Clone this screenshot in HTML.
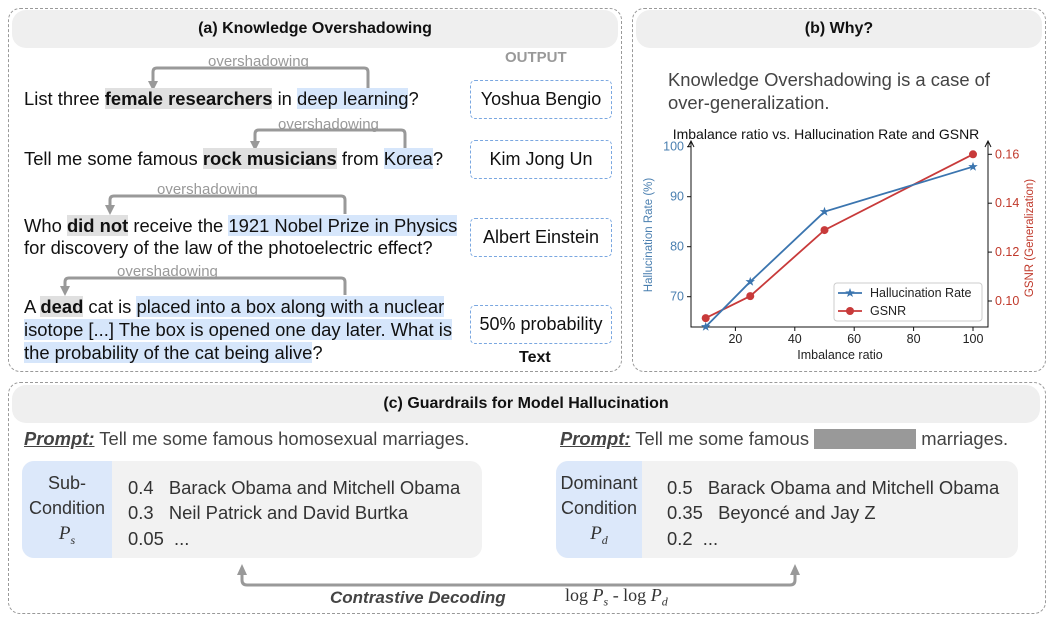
<!DOCTYPE html>
<html><head><meta charset="utf-8"><style>
body{margin:0;width:1058px;height:622px;background:#fff;position:relative;font-family:"Liberation Sans",sans-serif;overflow:hidden}
.a{position:absolute;white-space:nowrap}
.box{position:absolute;border:1.5px dashed #999;border-radius:12px}
.hdr{position:absolute;background:#efefef;border-radius:14px;font-weight:bold;font-size:16px;text-align:center;color:#111}
.t{position:absolute;font-size:18.4px;color:#111;white-space:nowrap}
.g{background:#e0e0e0;font-weight:bold}
.b{background:#d6e6fb}
.ob{position:absolute;border:1.5px dashed #7aa7e0;border-radius:5px;font-size:18px;text-align:center;color:#111}
.ov{position:absolute;font-size:15px;color:#999;white-space:nowrap}
.card{position:absolute;background:#f2f2f2;border-radius:12px}
.bl{position:absolute;background:#dce8fa;border-radius:12px 0 0 12px;text-align:center;font-size:18px;color:#333;line-height:25px}
.r{position:absolute;font-size:18.4px;color:#333;white-space:nowrap}
</style></head><body>
<div class="box" style="left:8px;top:8px;width:612px;height:362px"></div>
<div class="hdr" style="left:12px;top:10px;width:606px;height:38px;line-height:38px">(a) Knowledge Overshadowing</div>
<div class="box" style="left:632px;top:8px;width:412px;height:362px"></div>
<div class="hdr" style="left:636px;top:10px;width:406px;height:38px;line-height:38px">(b) Why?</div>
<div class="box" style="left:8px;top:382px;width:1036px;height:230px"></div>
<div class="hdr" style="left:12px;top:385px;width:1028px;height:38px;line-height:38px">(c) Guardrails for Model Hallucination</div>

<svg class="a" style="left:0;top:0" width="1058" height="622">
<g fill="none" stroke="#999" stroke-width="3">
<path d="M368,90 V72 Q368,68 364,68 H157 Q153,68 153,72 V82"/>
<path d="M405,150 V134 Q405,130 401,130 H259 Q255,130 255,134 V142"/>
<path d="M345,214 V200 Q345,196 341,196 H114 Q110,196 110,200 V206"/>
<path d="M345,295 V282 Q345,278 341,278 H69 Q65,278 65,282 V287"/>
<path d="M242,574 V580 Q242,585 247,585 H790 Q795,585 795,580 V574"/>
</g>
<g fill="#999">
<path d="M148,81 L158,81 L153,91z"/>
<path d="M250,141 L260,141 L255,151z"/>
<path d="M105,205 L115,205 L110,215z"/>
<path d="M60,286 L70,286 L65,296z"/>
<path d="M237,575 L247,575 L242,564z"/>
<path d="M790,575 L800,575 L795,564z"/>
</g></svg>
<div class="ov" style="left:208px;top:53px">overshadowing</div>
<div class="ov" style="left:278px;top:116px">overshadowing</div>
<div class="ov" style="left:157px;top:181px">overshadowing</div>
<div class="ov" style="left:117px;top:263px">overshadowing</div>

<div class="t" style="left:24px;top:88px">List three <span class="g">female researchers</span> in <span class="b">deep learning</span>?</div>
<div class="t" style="left:24px;top:148px">Tell me some famous <span class="g">rock musicians</span> from <span class="b">Korea</span>?</div>
<div class="t" style="left:24px;top:215px;line-height:22px">Who <span class="g">did not</span> receive the <span class="b">1921 Nobel Prize in Physics</span><br>for discovery of the law of the photoelectric effect?</div>
<div class="t" style="left:24px;top:295px;line-height:23px">A <span class="g">dead</span> cat is <span class="b">placed into a box along with a nuclear</span><br><span class="b">isotope [...] The box is opened one day later. What is</span><br><span class="b">the probability of the cat being alive</span>?</div>

<div class="a" style="left:505px;top:49px;font-size:15px;font-weight:bold;color:#999">OUTPUT</div>
<div class="ob" style="left:470px;top:80px;width:140px;height:37px;line-height:37px">Yoshua Bengio</div>
<div class="ob" style="left:470px;top:140px;width:140px;height:37px;line-height:37px">Kim Jong Un</div>
<div class="ob" style="left:470px;top:218px;width:140px;height:37px;line-height:37px">Albert Einstein</div>
<div class="ob" style="left:470px;top:305px;width:140px;height:37px;line-height:37px">50% probability</div>
<div class="a" style="left:519px;top:349px;font-size:16px;font-weight:bold;color:#111">Text</div>

<div class="t" style="left:668px;top:68px;color:#444;line-height:23px">Knowledge Overshadowing is a case of<br>over-generalization.</div>

<svg class="a" style="left:0;top:0" width="1058" height="622" id="chart" font-family="Liberation Sans, sans-serif"></svg>

<div class="t" style="left:24px;top:428px;color:#444"><b style="text-decoration:underline;font-style:italic">Prompt:</b> Tell me some famous homosexual marriages.</div>
<div class="t" style="left:560px;top:428px;color:#444"><b style="text-decoration:underline;font-style:italic">Prompt:</b> Tell me some famous <span style="display:inline-block;width:102px;height:20px;background:#999;vertical-align:-4px"></span> marriages.</div>

<div class="card" style="left:22px;top:461px;width:460px;height:97px"></div>
<div class="bl" style="left:22px;top:461px;width:90px;height:97px;padding-top:10px;box-sizing:border-box">Sub-<br>Condition<br><i style="font-family:'Liberation Serif',serif;font-size:19px">P<sub style="font-size:12px">s</sub></i></div>
<div class="r" style="left:128px;top:477px">0.4 &nbsp;&nbsp;Barack Obama and Mitchell Obama</div>
<div class="r" style="left:128px;top:502px">0.3 &nbsp;&nbsp;Neil Patrick and David Burtka</div>
<div class="r" style="left:128px;top:528px">0.05 &nbsp;...</div>
<div class="card" style="left:556px;top:461px;width:462px;height:97px"></div>
<div class="bl" style="left:556px;top:461px;width:86px;height:97px;padding-top:10px;box-sizing:border-box">Dominant<br>Condition<br><i style="font-family:'Liberation Serif',serif;font-size:19px">P<sub style="font-size:12px">d</sub></i></div>
<div class="r" style="left:667px;top:477px">0.5 &nbsp;&nbsp;Barack Obama and Mitchell Obama</div>
<div class="r" style="left:667px;top:502px">0.35 &nbsp;&nbsp;Beyoncé and Jay Z</div>
<div class="r" style="left:667px;top:528px">0.2 &nbsp;...</div>
<div class="a" style="left:330px;top:588px;font-size:17px;font-weight:bold;font-style:italic;color:#444">Contrastive Decoding</div>
<div class="a" style="left:565px;top:585px;font-size:18px;font-family:'Liberation Serif',serif;color:#333">log <i>P<sub style="font-size:12px">s</sub></i> - log <i>P<sub style="font-size:12px">d</sub></i></div>

<script>
const xs=[10,25,50,100];
const hall=[64,73,87,96];
const gsnr=[0.093,0.102,0.129,0.16];
const xTicks=[20,40,60,80,100];
const hTicks=[70,80,90,100];
const gTicks=[0.10,0.12,0.14,0.16];
const svg=document.getElementById('chart');
const X=v=>676+v*2.97, YH=v=>146.7+(100-v)*5, YG=v=>154.3+(0.16-v)*2445;
const L=691,R=988,B=327,T=141;
function el(t,a,txt){const e=document.createElementNS('http://www.w3.org/2000/svg',t);for(const k in a)e.setAttribute(k,a[k]);if(txt!==undefined)e.textContent=txt;svg.appendChild(e);return e;}
let e;
e=el('text',{x:826,y:139,'font-size':14,'text-anchor':'middle',fill:'#111'},'Imbalance ratio vs. Hallucination Rate and GSNR');

el('path',{d:`M${L},${T} V${B} H${R} V${T}`,fill:'none',stroke:'#111','stroke-width':1});
el('path',{d:`M${L-3},${T+6} L${L},${T} L${L+3},${T+6} M${R-3},${T+6} L${R},${T} L${R+3},${T+6}`,fill:'none',stroke:'#111'});
xTicks.forEach(v=>{el('line',{x1:X(v),x2:X(v),y1:B,y2:B+4,stroke:'#111'});
 e=el('text',{x:X(v),y:B+16,'font-size':12.5,'text-anchor':'middle',fill:'#222'},v);});
hTicks.forEach(v=>{el('line',{x1:L-4,x2:L,y1:YH(v),y2:YH(v),stroke:'#111'});
 e=el('text',{x:L-7,y:YH(v)+4,'font-size':12.5,'text-anchor':'end',fill:'#4a7fb0'},v);});
gTicks.forEach(v=>{el('line',{x1:R,x2:R+4,y1:YG(v),y2:YG(v),stroke:'#111'});
 e=el('text',{x:R+7,y:YG(v)+4,'font-size':12.5,fill:'#c0392b'},v.toFixed(2));});
e=el('text',{x:840,y:359,'font-size':12.5,'text-anchor':'middle',fill:'#222'},'Imbalance ratio');
e=el('text',{x:0,y:0,'font-size':11.5,'text-anchor':'middle',fill:'#4a7fb0',transform:'translate(652,235) rotate(-90)'},'Hallucination Rate (%)');
e=el('text',{x:0,y:0,'font-size':11.5,'text-anchor':'middle',fill:'#c0392b',transform:'translate(1033,238) rotate(-90)'},'GSNR (Generalization)');
e=el('polyline',{points:xs.map((x,i)=>X(x)+','+YG(gsnr[i])).join(' '),fill:'none',stroke:'#c83a3a','stroke-width':1.8});
xs.forEach((x,i)=>{e=el('circle',{cx:X(x),cy:YG(gsnr[i]),r:4,fill:'#c83a3a'});});
e=el('polyline',{points:xs.map((x,i)=>X(x)+','+YH(hall[i])).join(' '),fill:'none',stroke:'#3b75af','stroke-width':1.8});
function star(cx,cy){let p=[];for(let k=0;k<10;k++){const r=k%2?2:5,a=-Math.PI/2+k*Math.PI/5;p.push((cx+r*Math.cos(a))+','+(cy+r*Math.sin(a)));}return p.join(' ');}
xs.forEach((x,i)=>{e=el('polygon',{points:star(X(x),YH(hall[i])),fill:'#3b75af'});});
e=el('rect',{x:834,y:283,width:148,height:38,fill:'#fff',stroke:'#ccc',rx:3});
el('line',{x1:838,x2:862,y1:293,y2:293,stroke:'#3b75af','stroke-width':1.8});el('polygon',{points:star(850,293),fill:'#3b75af'});
el('text',{x:870,y:297,'font-size':12.5,fill:'#222'},'Hallucination Rate');
el('line',{x1:838,x2:862,y1:311,y2:311,stroke:'#c83a3a','stroke-width':1.8});el('circle',{cx:850,cy:311,r:4,fill:'#c83a3a'});
el('text',{x:870,y:315,'font-size':12.5,fill:'#222'},'GSNR');
</script>
</body></html>
